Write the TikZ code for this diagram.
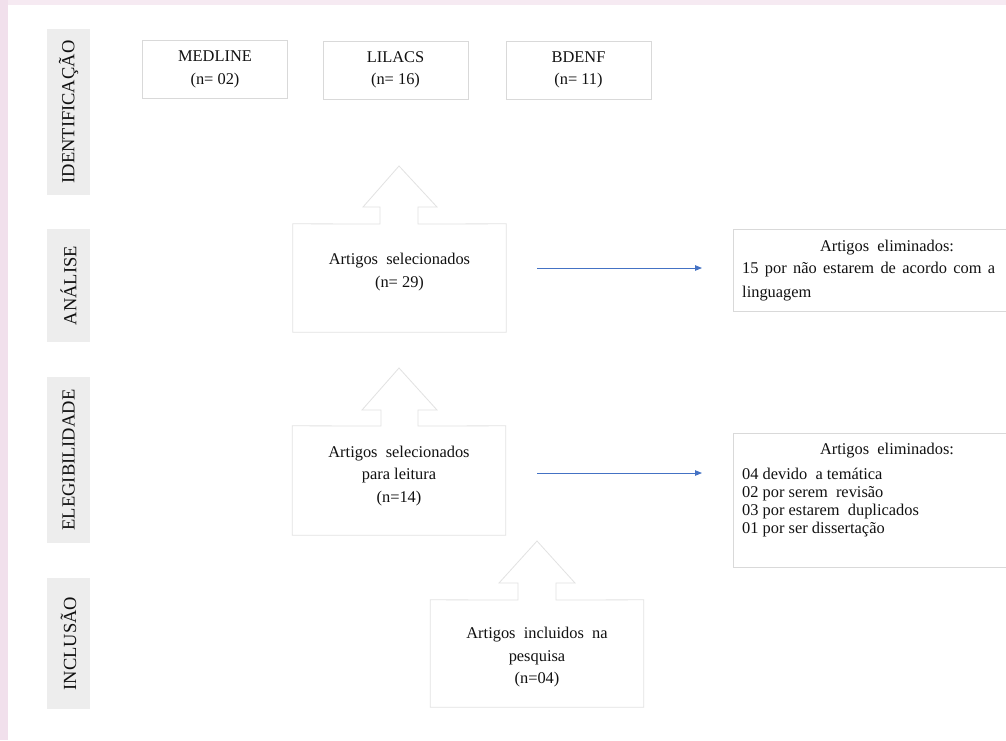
\documentclass[tikz,border=0pt]{standalone}
\usepackage{fontspec}
\setmainfont{Liberation Serif}
\usetikzlibrary{arrows.meta}
\definecolor{txt}{HTML}{111111}
\definecolor{edge}{HTML}{D9D9D9}
\definecolor{calledge}{HTML}{E2E2E2}
\definecolor{labfill}{HTML}{EDEDED}
\definecolor{pinkl}{HTML}{F1E0EC}
\definecolor{pinkt}{HTML}{F6EAF2}
\definecolor{flow}{HTML}{4472C4}
\begin{document}
\begin{tikzpicture}[x=1pt,y=-1pt,
  txtfont/.style={font=\fontsize{16.4}{22.5}\selectfont, text=txt, inner sep=0pt},
  dbbox/.style={draw=edge, line width=0.8pt, fill=white, minimum width=145pt, minimum height=58pt, inner sep=0pt, txtfont, align=center},
  phase/.style={fill=labfill, inner sep=0pt, rotate=90, minimum height=43pt, font=\fontsize{18.5}{20}\selectfont, text=txt},
  callbox/.style={draw=none, inner sep=0pt, minimum width=213pt},
  callout/.style={draw=calledge, line width=0.8pt},
  flowarrow/.style={draw=flow, line width=0.9pt, -{Triangle[length=7pt,width=5.5pt]}},
  elimbox/.style={draw=edge, line width=0.8pt, inner sep=0pt, anchor=north west}
]
\useasboundingbox (0,0) rectangle (1006,740);
\clip (0,0) rectangle (1006,740);
\fill[white] (0,0) rectangle (1006,740);
\fill[pinkt] (0,0) rectangle (1006,5);
\fill[pinkl] (0,0) rectangle (7.5,740);

% phase labels
\node[phase, minimum width=166pt] (pid) at (68.5,112) {IDENTIFICAÇÃO};
\node[phase, minimum width=113pt] (pan) at (68.5,285.5) {ANÁLISE};
\node[phase, minimum width=166pt] (pel) at (68.5,460) {ELEGIBILIDADE};
\node[phase, minimum width=131pt] (pin) at (68.5,643.5) {INCLUSÃO};

% databases
\node[dbbox] (med) at (215,69.5) {MEDLINE\\(n= 02)};
\node[dbbox] (lil) at (395.5,70) {LILACS\\(n= 16)};
\node[dbbox] (bde) at (578.5,70) {BDENF\\(n= 11)};

% callout 1: selected
\node[callbox, minimum height=108pt] (sel) at (399.5,278) {};
\draw[callout] (sel.north west) -- (380,224) -- (380,207) -- (363,207) -- (399,166)
  -- (437,207) -- (418,207) -- (418,224) -- (sel.north east) -- (sel.south east)
  -- (sel.south west) -- cycle;
\node[txtfont, align=center] (selt) at (399.5,272) {Artigos\ \ selecionados\\(n= 29)};

% callout 2: for reading
\node[callbox, minimum height=109pt] (lei) at (399,480.5) {};
\draw[callout] (lei.north west) -- (381,426) -- (381,410) -- (362,410) -- (399,368)
  -- (437,410) -- (418,410) -- (418,426) -- (lei.north east) -- (lei.south east)
  -- (lei.south west) -- cycle;
\node[txtfont, align=center] (leit) at (399,476) {Artigos\ \ selecionados\\para leitura\\(n=14)};

% callout 3: included
\node[callbox, minimum height=107pt] (inc) at (537,653.5) {};
\draw[callout] (inc.north west) -- (518,600) -- (518,583) -- (499,583) -- (537,541)
  -- (575,583) -- (556,583) -- (556,600) -- (inc.north east) -- (inc.south east)
  -- (inc.south west) -- cycle;
\node[txtfont, align=center] (inct) at (537,657.5) {Artigos\ \ incluidos\ \ na\\pesquisa\\(n=04)};

% eliminated 1
\node[elimbox, minimum width=290pt, minimum height=82pt] (el1) at (733,229) {};
\node[txtfont] (el1t) at (887,248) {Artigos\ \ eliminados:};
\node[txtfont, anchor=west, align=left, font=\fontsize{16.4}{24}\selectfont] (el1b) at (742,282)
  {\hbox to 253pt{15 por não estarem de acordo com a}\\linguagem};

% eliminated 2
\node[elimbox, minimum width=290pt, minimum height=134pt] (el2) at (733,433) {};
\node[txtfont] (el2t) at (887,451) {Artigos\ \ eliminados:};
\node[txtfont, anchor=west, align=left, font=\fontsize{16.4}{18}\selectfont] (el2b) at (742,503)
  {04 devido\ \ a temática\\02 por serem\ \ revisão\\03 por estarem\ \ duplicados\\01 por ser dissertação};

% flow arrows
\coordinate (a1s) at (537,268);
\coordinate (a1e) at (702,268);
\coordinate (a2s) at (537,473);
\coordinate (a2e) at (702,473);
\draw[flowarrow] (a1s) -- (a1e);
\draw[flowarrow] (a2s) -- (a2e);
\end{tikzpicture}
\end{document}
